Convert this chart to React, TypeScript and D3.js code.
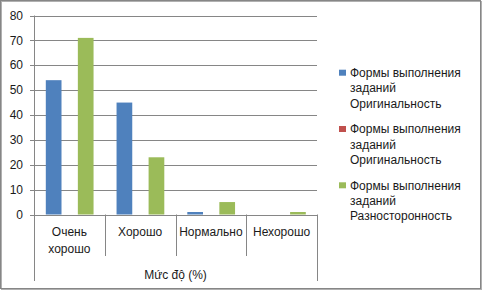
import React from "react";
import * as d3 from "d3";

const categories = ["Очень хорошо", "Хорошо", "Нормально", "Нехорошо"];
const categoryLines = [["Очень", "хорошо"], ["Хорошо"], ["Нормально"], ["Нехорошо"]];
const seriesNames = [
  "Формы выполнения заданий Оригинальность (1)",
  "Формы выполнения заданий Оригинальность (2)",
  "Формы выполнения заданий Разносторонность",
];
const legendLines = [
  ["Формы выполнения", "заданий", "Оригинальность"],
  ["Формы выполнения", "заданий", "Оригинальность"],
  ["Формы выполнения", "заданий", "Разносторонность"],
];
const seriesA = [54, 45, 1, 0];
const seriesB = [0, 0, 0, 0];
const seriesC = [71, 23, 5, 1];
const yTicks = [0, 10, 20, 30, 40, 50, 60, 70, 80];
const axisTitle = "Mức độ (%)";
const colors = ["#4F81BD", "#C0504D", "#9BBB59"];

const W = 482;
const H = 290;
const FONT = "'Liberation Sans', Arial, sans-serif";

export default function App() {
  const values = [seriesA, seriesB, seriesC];
  const plotLeft = 34;
  const plotRight = 317;
  const y = d3.scaleLinear().domain([0, 80]).range([214.5, 15.5]);
  const x0 = d3.scaleBand<string>().domain(categories).range([plotLeft, plotRight]).padding(0);
  const bw = x0.bandwidth();
  const x1 = d3
    .scaleBand<string>()
    .domain(seriesNames)
    .range([11.8, bw - 11.2])
    .paddingInner(0.02);
  const y0 = y(0);

  return (
    <div style={{ position: "fixed", left: 0, top: 0 }}>
      <svg width={W} height={H} style={{ display: "block" }}>
        <rect x={0} y={0} width={W} height={H} fill="#fff" />
        {/* border with shadow */}
        <rect x={1.5} y={1.5} width={W - 2} height={H - 2} fill="none" stroke="#b0b0b0" strokeWidth={1} />
        <rect x={0.5} y={0.5} width={W - 2} height={H - 2} fill="none" stroke="#868686" strokeWidth={1} />
        {/* gridlines */}
        {yTicks.map((t) => (
          <g key={t}>
            <line
              x1={plotLeft - 4}
              x2={t === 0 ? plotLeft : plotRight}
              y1={Math.round(y(t)) + 0.5}
              y2={Math.round(y(t)) + 0.5}
              stroke="#868686"
              strokeWidth={1}
            />
            <text
              x={23}
              y={y(t)}
              dy="0.35em"
              textAnchor="end"
              fontFamily={FONT}
              fontSize={12}
              fill="#1a1a1a"
            >
              {t}
            </text>
          </g>
        ))}
        {/* bars */}
        {categories.map((c, i) => (
          <g key={c}>
            {seriesNames.map((s, j) => {
              const v = values[j][i];
              if (v <= 0) return null;
              const top = y(v);
              return (
                <rect
                  key={s}
                  x={(x0(c) as number) + (x1(s) as number)}
                  y={top}
                  width={x1.bandwidth()}
                  height={y0 - top}
                  fill={colors[j]}
                />
              );
            })}
          </g>
        ))}
        {/* axes */}
        <line x1={plotLeft + 0.5} x2={plotLeft + 0.5} y1={y(80)} y2={281} stroke="#868686" />
        <line x1={plotLeft} x2={plotRight} y1={Math.round(y0) + 0.5} y2={Math.round(y0) + 0.5} stroke="#868686" />
        {categories.map((c, i) => {
          const xx = Math.round((x0(c) as number) + bw) + 0.5;
          return (
            <line
              key={"sep" + c}
              x1={xx}
              x2={xx}
              y1={y0}
              y2={i === categories.length - 1 ? 281 : 256}
              stroke="#868686"
            />
          );
        })}
        {categories.map((c, i) => {
          const cx = (x0(c) as number) + bw / 2;
          const lines = categoryLines[i];
          return (
            <text
              key={"lbl" + c}
              x={cx}
              textAnchor="middle"
              fontFamily={FONT}
              fontSize={12}
              fill="#1a1a1a"
            >
              {lines.map((l, k) => (
                <tspan key={k} x={cx} y={lines.length === 1 ? 236 : 236 + k * 16.5}>
                  {l}
                </tspan>
              ))}
            </text>
          );
        })}
        <text
          x={(plotLeft + plotRight) / 2}
          y={279}
          textAnchor="middle"
          fontFamily={FONT}
          fontSize={12}
          fill="#1a1a1a"
        >
          {axisTitle}
        </text>
        {/* legend */}
        {seriesNames.map((s, j) => {
          const baseY = 72.7 + j * 56.3;
          return (
            <g key={"leg" + s}>
              <rect x={339} y={baseY - 3} width={7} height={6} fill={colors[j]} />
              <text fontFamily={FONT} fontSize={12} fill="#1a1a1a">
                {legendLines[j].map((l, k) => (
                  <tspan key={k} x={350} y={baseY + k * 15.4} dy="0.35em">
                    {l}
                  </tspan>
                ))}
              </text>
            </g>
          );
        })}
      </svg>
    </div>
  );
}
